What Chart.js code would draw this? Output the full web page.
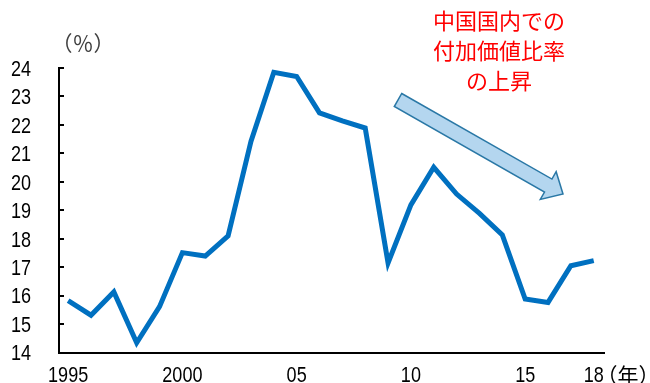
<!DOCTYPE html>
<html>
<head>
<meta charset="utf-8">
<script src="https://cdn.jsdelivr.net/npm/chart.js@4.4.1/dist/chart.umd.min.js"></script>
<style>
  html, body { margin: 0; padding: 0; background: #ffffff; }
  #wrap { width: 650px; height: 383px; }
</style>
</head>
<body>
<div id="wrap"><canvas id="c" width="650" height="383"></canvas></div>
<script>
// Share of value added inside China (%), 1995-2018
const years = [1995, 1996, 1997, 1998, 1999, 2000, 2001, 2002, 2003, 2004, 2005, 2006,
               2007, 2008, 2009, 2010, 2011, 2012, 2013, 2014, 2015, 2016, 2017, 2018];
const shareValues = [15.82, 15.31, 16.13, 14.34, 15.61, 17.51, 17.39, 18.10, 21.42, 23.85, 23.70, 22.42,
                     22.14, 21.89, 17.15, 19.19, 20.51, 19.57, 18.89, 18.13, 15.88, 15.76, 17.05, 17.23];

// Axis ticks
const tickYears = [1995, 2000, 2005, 2010, 2015, 2018];
const tickLabels = ['1995', '2000', '05', '10', '15', '18'];
const yTicks = [14, 15, 16, 17, 18, 19, 20, 21, 22, 23, 24];

// Annotation text
const noteLines = ['中国国内での', '付加価値比率', 'の上昇'];
const yUnit = '（％）';
const xUnit = '（年）';

const NUM_FONT = '22px "Liberation Sans", Arial, sans-serif';
const NUM_SQUEEZE = 0.82;           // narrow numerals
const CJK_FONT = '"Noto Sans CJK JP", "Noto Sans", sans-serif';

function narrowText(ctx, text, x, y, align) {
  ctx.save();
  ctx.translate(x, y);
  ctx.scale(NUM_SQUEEZE, 1);
  ctx.textAlign = align;
  ctx.textBaseline = 'alphabetic';
  ctx.fillText(text, 0, 0);
  ctx.restore();
}

// Inward tick marks and narrow tick labels for both axes
const axisDecor = {
  id: 'axisDecor',
  afterDraw(chart) {
    const { ctx, scales: { x, y }, chartArea } = chart;
    ctx.save();
    ctx.strokeStyle = '#000000';
    ctx.lineWidth = 2;
    y.ticks.forEach(t => {
      const py = Math.round(y.getPixelForValue(t.value));
      ctx.beginPath();
      ctx.moveTo(chartArea.left, py);
      ctx.lineTo(chartArea.left + 5, py);
      ctx.stroke();
    });

    ctx.fillStyle = '#000000';
    ctx.font = NUM_FONT;
    const digitMid = 0.358 * 22;
    y.ticks.forEach(t => {
      narrowText(ctx, String(t.value), 31, y.getPixelForValue(t.value) + digitMid, 'right');
    });
    x.ticks.forEach(t => {
      const label = tickLabels[tickYears.indexOf(t.value)];
      narrowText(ctx, label, x.getPixelForValue(t.value), 374.5 + digitMid, 'center');
    });
    ctx.restore();
  }
};

// Unit labels, the red note and the trend arrow
const decorations = {
  id: 'decorations',
  afterDraw(chart) {
    const { ctx } = chart;
    ctx.save();

    // unit labels
    ctx.textAlign = 'center';
    ctx.textBaseline = 'middle';
    ctx.fillStyle = '#404040';
    ctx.font = '21px ' + CJK_FONT;
    ctx.fillText(yUnit, 83, 43);
    ctx.fillStyle = '#000000';
    ctx.fillText(xUnit, 628, 375);

    // red note
    ctx.fillStyle = '#ff0000';
    ctx.font = '22px ' + CJK_FONT;
    noteLines.forEach((t, i) => ctx.fillText(t, 499, 21 + i * 30));

    // arrow
    const S = [398, 100], T = [563, 194];
    const dx = T[0] - S[0], dy = T[1] - S[1];
    const len = Math.hypot(dx, dy);
    const ux = dx / len, uy = dy / len;
    const nx = -uy, ny = ux;
    const w = 7.5, h = 16, headLen = 17;
    const J = [T[0] - ux * headLen, T[1] - uy * headLen];
    const pts = [
      [S[0] - nx * w, S[1] - ny * w],
      [J[0] - nx * w, J[1] - ny * w],
      [J[0] - nx * h, J[1] - ny * h],
      T,
      [J[0] + nx * h, J[1] + ny * h],
      [J[0] + nx * w, J[1] + ny * w],
      [S[0] + nx * w, S[1] + ny * w]
    ];
    ctx.beginPath();
    pts.forEach((p, i) => i ? ctx.lineTo(p[0], p[1]) : ctx.moveTo(p[0], p[1]));
    ctx.closePath();
    ctx.fillStyle = '#b4d6ef';
    ctx.fill();
    ctx.strokeStyle = '#2a78a6';
    ctx.lineWidth = 1.5;
    ctx.lineJoin = 'miter';
    ctx.stroke();

    ctx.restore();
  }
};

function fixBox(scale, w, h) {
  if (w !== undefined) scale.width = w;
  if (h !== undefined) scale.height = h;
  scale.paddingLeft = 0;
  scale.paddingRight = 0;
  scale.paddingTop = 0;
  scale.paddingBottom = 0;
}

new Chart(document.getElementById('c'), {
  type: 'line',
  data: {
    datasets: [{
      data: years.map((yr, i) => ({ x: yr, y: shareValues[i] })),
      borderColor: '#0070c0',
      borderWidth: 5,
      pointRadius: 0,
      tension: 0,
      fill: false,
      borderJoinStyle: 'miter',
      borderCapStyle: 'butt'
    }]
  },
  options: {
    responsive: false,
    animation: false,
    devicePixelRatio: 1,
    layout: { padding: { left: 0, right: 46, top: 68, bottom: 0 } },
    plugins: { legend: { display: false }, tooltip: { enabled: false } },
    scales: {
      x: {
        type: 'linear',
        min: 1994.6,
        max: 2018.45,
        grid: { display: false, drawTicks: false },
        border: { display: true, color: '#000000', width: 2 },
        afterBuildTicks: scale => { scale.ticks = tickYears.map(v => ({ value: v })); },
        afterFit: scale => fixBox(scale, undefined, 30.5),
        ticks: { display: false }
      },
      y: {
        min: 14,
        max: 24,
        grid: { display: false, drawTicks: false },
        border: { display: true, color: '#000000', width: 2 },
        afterBuildTicks: scale => { scale.ticks = yTicks.map(v => ({ value: v })); },
        afterFit: scale => fixBox(scale, 59, undefined),
        ticks: { display: false }
      }
    }
  },
  plugins: [axisDecor, decorations]
});
</script>
</body>
</html>
